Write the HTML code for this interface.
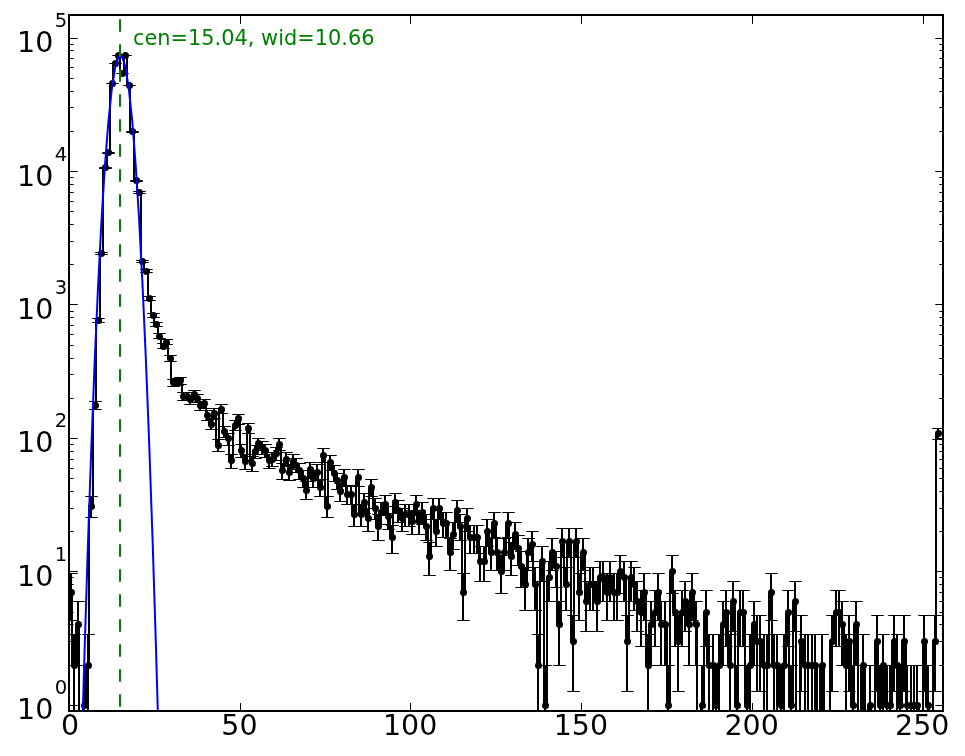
<!DOCTYPE html>
<html lang="en"><head><meta charset="utf-8"><title>Histogram fit</title>
<style>html,body{margin:0;padding:0;background:#fff;}body{width:965px;height:756px;overflow:hidden;}svg{display:block;}text{font-family:"DejaVu Sans","Liberation Sans",sans-serif;}</style></head><body>
<svg width="965" height="756" viewBox="0 0 965 756">
<rect width="965" height="756" fill="#fff"/>
<defs><clipPath id="c"><rect x="69" y="15" width="874" height="696"/></clipPath></defs>
<g clip-path="url(#c)">
<path d="M71 593 L72 593 L72 666 L76 666 L76 625 L79 625 L79 732 L83 732 L83 706 L86 706 L86 666 L89 666 L89 507 L93 507 L93 406 L96 406 L96 321 L100 321 L100 254 L103 254 L103 168 L107 168 L107 153 L110 153 L110 84 L113 84 L113 64 L117 64 L117 56 L120 56 L120 74 L124 74 L124 56 L127 56 L127 86 L130 86 L130 132 L134 132 L134 181 L137 181 L137 193 L141 193 L141 262 L144 262 L144 272 L148 272 L148 299 L151 299 L151 316 L154 316 L154 325 L158 325 L158 337 L161 337 L161 347 L165 347 L165 343 L168 343 L168 359 L171 359 L171 383 L175 383 L175 382 L178 382 L178 381 L182 381 L182 397 L185 397 L185 397 L188 397 L188 400 L192 400 L192 395 L195 395 L195 399 L199 399 L199 406 L202 406 L202 404 L206 404 L206 416 L209 416 L209 425 L212 425 L212 414 L216 414 L216 446 L219 446 L219 410 L223 410 L223 432 L226 432 L226 439 L229 439 L229 461 L233 461 L233 426 L236 426 L236 419 L240 419 L240 451 L243 451 L243 462 L247 462 L247 429 L250 429 L250 464 L253 464 L253 452 L257 452 L257 444 L260 444 L260 448 L264 448 L264 451 L267 451 L267 461 L270 461 L270 460 L274 460 L274 454 L277 454 L277 445 L281 445 L281 471 L284 471 L284 460 L288 460 L288 473 L291 473 L291 462 L294 462 L294 466 L298 466 L298 471 L301 471 L301 479 L305 479 L305 491 L308 491 L308 470 L311 470 L311 479 L315 479 L315 473 L318 473 L318 488 L322 488 L322 456 L325 456 L325 507 L328 507 L328 463 L332 463 L332 474 L335 474 L335 481 L339 481 L339 492 L342 492 L342 478 L346 478 L346 495 L349 495 L349 495 L352 495 L352 515 L356 515 L356 478 L359 478 L359 515 L363 515 L363 503 L366 503 L366 519 L369 519 L369 488 L373 488 L373 509 L376 509 L376 527 L380 527 L380 513 L383 513 L383 505 L387 505 L387 517 L390 517 L390 538 L393 538 L393 503 L397 503 L397 511 L400 511 L400 519 L404 519 L404 515 L407 515 L407 515 L410 515 L410 522 L414 522 L414 505 L417 505 L417 522 L421 522 L421 513 L424 513 L424 527 L428 527 L428 557 L431 557 L431 509 L434 509 L434 532 L438 532 L438 509 L441 509 L441 524 L445 524 L445 524 L448 524 L448 553 L451 553 L451 535 L455 535 L455 511 L458 511 L458 527 L462 527 L462 593 L465 593 L465 519 L468 519 L468 538 L472 538 L472 538 L475 538 L475 538 L479 538 L479 562 L482 562 L482 562 L486 562 L486 532 L489 532 L489 553 L492 553 L492 524 L496 524 L496 553 L499 553 L499 572 L503 572 L503 553 L506 553 L506 524 L509 524 L509 557 L513 557 L513 535 L516 535 L516 549 L520 549 L520 567 L523 567 L523 585 L527 585 L527 553 L530 553 L530 545 L533 545 L533 585 L537 585 L537 666 L540 666 L540 562 L544 562 L544 706 L547 706 L547 578 L550 578 L550 553 L554 553 L554 567 L557 567 L557 625 L561 625 L561 542 L564 542 L564 585 L567 585 L567 542 L571 542 L571 642 L574 642 L574 542 L578 542 L578 593 L581 593 L581 553 L585 553 L585 602 L588 602 L588 585 L591 585 L591 585 L595 585 L595 602 L598 602 L598 578 L602 578 L602 578 L605 578 L605 593 L608 593 L608 578 L612 578 L612 593 L615 593 L615 593 L619 593 L619 572 L622 572 L622 578 L626 578 L626 642 L629 642 L629 578 L632 578 L632 585 L636 585 L636 602 L639 602 L639 613 L643 613 L643 593 L646 593 L646 666 L649 666 L649 625 L653 625 L653 613 L656 613 L656 593 L660 593 L660 625 L663 625 L663 625 L667 625 L667 706 L670 706 L670 572 L673 572 L673 613 L677 613 L677 642 L680 642 L680 613 L684 613 L684 602 L687 602 L687 625 L690 625 L690 593 L694 593 L694 625 L697 625 L697 732 L701 732 L701 706 L704 706 L704 613 L707 613 L707 666 L711 666 L711 666 L714 666 L714 706 L718 706 L718 666 L721 666 L721 625 L725 625 L725 613 L728 613 L728 666 L731 666 L731 602 L735 602 L735 706 L738 706 L738 613 L742 613 L742 613 L745 613 L745 706 L748 706 L748 666 L752 666 L752 625 L755 625 L755 642 L759 642 L759 642 L762 642 L762 666 L766 666 L766 666 L769 666 L769 593 L772 593 L772 666 L776 666 L776 666 L779 666 L779 706 L783 706 L783 666 L786 666 L786 613 L789 613 L789 706 L793 706 L793 602 L796 602 L796 732 L800 732 L800 642 L803 642 L803 666 L807 666 L807 666 L810 666 L810 666 L813 666 L813 666 L817 666 L817 732 L820 732 L820 666 L824 666 L824 732 L827 732 L827 732 L830 732 L830 642 L834 642 L834 613 L837 613 L837 613 L841 613 L841 625 L844 625 L844 666 L847 666 L847 642 L851 642 L851 706 L854 706 L854 625 L858 625 L858 732 L861 732 L861 666 L865 666 L865 732 L868 732 L868 706 L871 706 L871 732 L875 732 L875 642 L878 642 L878 706 L882 706 L882 666 L885 666 L885 706 L888 706 L888 706 L892 706 L892 642 L895 642 L895 666 L899 666 L899 706 L902 706 L902 642 L906 642 L906 706 L909 706 L909 706 L912 706 L912 706 L916 706 L916 706 L919 706 L919 732 L923 732 L923 642 L926 642 L926 706 L929 706 L929 732 L933 732 L933 642 L936 642 L936 434 L938 434" fill="none" stroke="#000" stroke-width="2" stroke-linejoin="round" stroke-linecap="butt"/>
<path d="M71 573.94V620.04M74 634.13V731M78 601.46V665.13M84 665.13V731M88 634.13V731M91 496.71V517.75M95 401.11V409.84M98 318.12V322.31M101 252.38V254.73M105 167.32V168.45M108 152.26V153.25M112 83.17V83.71M115 63.21V63.66M118 55.22V55.64M122 73.1V73.6M125 55.22V55.64M129 85.07V85.63M132 131.24V132.06M136 180.06V181.32M139 191.78V193.17M142 260.02V262.54M146 269.89V272.63M149 296.99V300.46M153 313.3V317.3M156 322.03V326.36M159 333.97V338.78M163 343.74V348.98M166 339.71V344.77M170 355.66V361.48M173 379.32V386.51M177 378.47V385.6M180 377.41V384.48M183 392.34V400.41M187 392.89V401M190 395.98V404.31M194 390.48V398.41M197 394.55V402.78M200 401.75V410.53M204 399.55V408.16M207 410.73V420.25M211 419.62V429.94M214 408.89V418.25M218 439.32V451.65M221 404.7V413.71M224 426.6V437.59M228 433.44V445.12M231 454.12V468.25M235 420.06V430.42M238 414.2V424.02M241 444.51V457.44M245 454.93V469.16M248 423.24V433.89M252 456.59V471.04M255 445.19V458.21M258 438.09V450.29M262 441.85V454.48M265 444.51V457.44M269 454.12V468.25M272 452.53V466.45M276 447.3V460.56M279 438.7V450.96M282 463.77V479.22M286 452.53V466.45M289 464.74V480.32M293 454.93V469.16M296 458.3V472.99M299 463.77V479.22M303 470.91V487.41M306 481.67V499.92M310 462.82V478.13M313 470.91V487.41M317 464.74V480.32M320 479.09V496.91M323 448.74V462.19M327 496.71V517.75M330 455.76V470.1M334 465.72V481.45M337 473.13V489.98M340 483V501.48M344 469.83V486.17M347 485.77V504.74M351 485.77V504.74M354 504.09V526.67M358 469.83V486.17M361 504.09V526.67M364 493.36V513.74M368 508.18V531.68M371 479.09V496.91M375 498.46V519.86M378 514.96V540.05M381 502.15V524.32M385 495.01V515.71M388 506.1V529.13M392 525.52V553.36M395 493.36V513.74M398 500.27V522.05M402 508.18V531.68M405 504.09V526.67M409 504.09V526.67M412 510.35V534.35M416 495.01V515.71M419 510.35V534.35M422 502.15V524.32M426 514.96V540.05M429 542.46V575.47M433 498.46V519.86M436 519.98V546.35M439 498.46V519.86M443 512.6V537.13M446 512.6V537.13M450 538.62V570.37M453 522.68V549.76M457 500.27V522.05M460 514.96V540.05M463 573.94V620.04M467 508.18V531.68M470 525.52V553.36M474 525.52V553.36M477 525.52V553.36M480 546.59V581.03M484 546.59V581.03M487 519.98V546.35M491 538.62V570.37M494 512.6V537.13M497 538.62V570.37M501 555.93V593.88M504 538.62V570.37M508 512.6V537.13M511 542.46V575.47M515 522.68V549.76M518 535.04V565.66M521 551.06V587.12M525 567.24V610.07M528 538.62V570.37M532 531.68V561.29M535 567.24V610.07M538 634.13V731M542 546.59V581.03M545 665.13V731M549 561.29V601.46M552 538.62V570.37M556 551.06V587.12M559 601.46V665.13M562 528.51V557.2M566 567.24V610.07M569 528.51V557.2M573 615.22V691.54M576 528.51V557.2M579 573.94V620.04M583 538.62V570.37M586 581.62V631.87M590 567.24V610.07M593 567.24V610.07M597 581.62V631.87M600 561.29V601.46M603 561.29V601.46M607 573.94V620.04M610 561.29V601.46M614 573.94V620.04M617 573.94V620.04M620 555.93V593.88M624 561.29V601.46M627 615.22V691.54M631 561.29V601.46M634 567.24V610.07M637 581.62V631.87M641 590.6V646.38M644 573.94V620.04M648 634.13V731M651 601.46V665.13M655 590.6V646.38M658 573.94V620.04M661 601.46V665.13M665 601.46V665.13M668 665.13V731M672 555.93V593.88M675 590.6V646.38M678 615.22V691.54M682 590.6V646.38M685 581.62V631.87M689 601.46V665.13M692 573.94V620.04M696 601.46V665.13M702 665.13V731M706 590.6V646.38M709 634.13V731M713 634.13V731M716 665.13V731M719 634.13V731M723 601.46V665.13M726 590.6V646.38M730 634.13V731M733 581.62V631.87M737 665.13V731M740 590.6V646.38M743 590.6V646.38M747 665.13V731M750 634.13V731M754 601.46V665.13M757 615.22V691.54M760 615.22V691.54M764 634.13V731M767 634.13V731M771 573.94V620.04M774 634.13V731M777 634.13V731M781 665.13V731M784 634.13V731M788 590.6V646.38M791 665.13V731M795 581.62V631.87M801 615.22V691.54M805 634.13V731M808 634.13V731M812 634.13V731M815 634.13V731M822 634.13V731M832 615.22V691.54M836 590.6V646.38M839 590.6V646.38M842 601.46V665.13M846 634.13V731M849 615.22V691.54M853 665.13V731M856 601.46V665.13M863 634.13V731M870 665.13V731M877 615.22V691.54M880 665.13V731M883 634.13V731M887 665.13V731M890 665.13V731M894 615.22V691.54M897 634.13V731M900 665.13V731M904 615.22V691.54M907 665.13V731M911 665.13V731M914 665.13V731M917 665.13V731M924 615.22V691.54M928 665.13V731M935 615.22V691.54M938 428.62V439.81" fill="none" stroke="#000" stroke-width="2"/>
<path d="M65.25 573.5H77.75M65.25 620.5H77.75M68.25 634.5H80.75M72.25 601.5H84.75M72.25 665.5H84.75M78.25 665.5H90.75M82.25 634.5H94.75M85.25 496.5H97.75M85.25 517.5H97.75M89.25 401.5H101.75M89.25 409.5H101.75M92.25 318.5H104.75M92.25 322.5H104.75M95.25 252.5H107.75M95.25 254.5H107.75M99.25 167.5H111.75M99.25 168.5H111.75M102.25 152.5H114.75M102.25 153.5H114.75M106.25 83.5H118.75M106.25 83.5H118.75M109.25 63.5H121.75M109.25 63.5H121.75M112.25 55.5H124.75M112.25 55.5H124.75M116.25 73.5H128.75M116.25 73.5H128.75M119.25 55.5H131.75M119.25 55.5H131.75M123.25 85.5H135.75M123.25 85.5H135.75M126.25 131.5H138.75M126.25 132.5H138.75M130.25 180.5H142.75M130.25 181.5H142.75M133.25 191.5H145.75M133.25 193.5H145.75M136.25 260.5H148.75M136.25 262.5H148.75M140.25 269.5H152.75M140.25 272.5H152.75M143.25 296.5H155.75M143.25 300.5H155.75M147.25 313.5H159.75M147.25 317.5H159.75M150.25 322.5H162.75M150.25 326.5H162.75M153.25 333.5H165.75M153.25 338.5H165.75M157.25 343.5H169.75M157.25 348.5H169.75M160.25 339.5H172.75M160.25 344.5H172.75M164.25 355.5H176.75M164.25 361.5H176.75M167.25 379.5H179.75M167.25 386.5H179.75M171.25 378.5H183.75M171.25 385.5H183.75M174.25 377.5H186.75M174.25 384.5H186.75M177.25 392.5H189.75M177.25 400.5H189.75M181.25 392.5H193.75M181.25 400.5H193.75M184.25 395.5H196.75M184.25 404.5H196.75M188.25 390.5H200.75M188.25 398.5H200.75M191.25 394.5H203.75M191.25 402.5H203.75M194.25 401.5H206.75M194.25 410.5H206.75M198.25 399.5H210.75M198.25 408.5H210.75M201.25 410.5H213.75M201.25 420.5H213.75M205.25 419.5H217.75M205.25 429.5H217.75M208.25 408.5H220.75M208.25 418.5H220.75M212.25 439.5H224.75M212.25 451.5H224.75M215.25 404.5H227.75M215.25 413.5H227.75M218.25 426.5H230.75M218.25 437.5H230.75M222.25 433.5H234.75M222.25 445.5H234.75M225.25 454.5H237.75M225.25 468.5H237.75M229.25 420.5H241.75M229.25 430.5H241.75M232.25 414.5H244.75M232.25 424.5H244.75M235.25 444.5H247.75M235.25 457.5H247.75M239.25 454.5H251.75M239.25 469.5H251.75M242.25 423.5H254.75M242.25 433.5H254.75M246.25 456.5H258.75M246.25 471.5H258.75M249.25 445.5H261.75M249.25 458.5H261.75M252.25 438.5H264.75M252.25 450.5H264.75M256.25 441.5H268.75M256.25 454.5H268.75M259.25 444.5H271.75M259.25 457.5H271.75M263.25 454.5H275.75M263.25 468.5H275.75M266.25 452.5H278.75M266.25 466.5H278.75M270.25 447.5H282.75M270.25 460.5H282.75M273.25 438.5H285.75M273.25 450.5H285.75M276.25 463.5H288.75M276.25 479.5H288.75M280.25 452.5H292.75M280.25 466.5H292.75M283.25 464.5H295.75M283.25 480.5H295.75M287.25 454.5H299.75M287.25 469.5H299.75M290.25 458.5H302.75M290.25 472.5H302.75M293.25 463.5H305.75M293.25 479.5H305.75M297.25 470.5H309.75M297.25 487.5H309.75M300.25 481.5H312.75M300.25 499.5H312.75M304.25 462.5H316.75M304.25 478.5H316.75M307.25 470.5H319.75M307.25 487.5H319.75M311.25 464.5H323.75M311.25 480.5H323.75M314.25 479.5H326.75M314.25 496.5H326.75M317.25 448.5H329.75M317.25 462.5H329.75M321.25 496.5H333.75M321.25 517.5H333.75M324.25 455.5H336.75M324.25 470.5H336.75M328.25 465.5H340.75M328.25 481.5H340.75M331.25 473.5H343.75M331.25 489.5H343.75M334.25 483.5H346.75M334.25 501.5H346.75M338.25 469.5H350.75M338.25 486.5H350.75M341.25 485.5H353.75M341.25 504.5H353.75M345.25 485.5H357.75M345.25 504.5H357.75M348.25 504.5H360.75M348.25 526.5H360.75M352.25 469.5H364.75M352.25 486.5H364.75M355.25 504.5H367.75M355.25 526.5H367.75M358.25 493.5H370.75M358.25 513.5H370.75M362.25 508.5H374.75M362.25 531.5H374.75M365.25 479.5H377.75M365.25 496.5H377.75M369.25 498.5H381.75M369.25 519.5H381.75M372.25 514.5H384.75M372.25 540.5H384.75M375.25 502.5H387.75M375.25 524.5H387.75M379.25 495.5H391.75M379.25 515.5H391.75M382.25 506.5H394.75M382.25 529.5H394.75M386.25 525.5H398.75M386.25 553.5H398.75M389.25 493.5H401.75M389.25 513.5H401.75M392.25 500.5H404.75M392.25 522.5H404.75M396.25 508.5H408.75M396.25 531.5H408.75M399.25 504.5H411.75M399.25 526.5H411.75M403.25 504.5H415.75M403.25 526.5H415.75M406.25 510.5H418.75M406.25 534.5H418.75M410.25 495.5H422.75M410.25 515.5H422.75M413.25 510.5H425.75M413.25 534.5H425.75M416.25 502.5H428.75M416.25 524.5H428.75M420.25 514.5H432.75M420.25 540.5H432.75M423.25 542.5H435.75M423.25 575.5H435.75M427.25 498.5H439.75M427.25 519.5H439.75M430.25 519.5H442.75M430.25 546.5H442.75M433.25 498.5H445.75M433.25 519.5H445.75M437.25 512.5H449.75M437.25 537.5H449.75M440.25 512.5H452.75M440.25 537.5H452.75M444.25 538.5H456.75M444.25 570.5H456.75M447.25 522.5H459.75M447.25 549.5H459.75M451.25 500.5H463.75M451.25 522.5H463.75M454.25 514.5H466.75M454.25 540.5H466.75M457.25 573.5H469.75M457.25 620.5H469.75M461.25 508.5H473.75M461.25 531.5H473.75M464.25 525.5H476.75M464.25 553.5H476.75M468.25 525.5H480.75M468.25 553.5H480.75M471.25 525.5H483.75M471.25 553.5H483.75M474.25 546.5H486.75M474.25 581.5H486.75M478.25 546.5H490.75M478.25 581.5H490.75M481.25 519.5H493.75M481.25 546.5H493.75M485.25 538.5H497.75M485.25 570.5H497.75M488.25 512.5H500.75M488.25 537.5H500.75M491.25 538.5H503.75M491.25 570.5H503.75M495.25 555.5H507.75M495.25 593.5H507.75M498.25 538.5H510.75M498.25 570.5H510.75M502.25 512.5H514.75M502.25 537.5H514.75M505.25 542.5H517.75M505.25 575.5H517.75M509.25 522.5H521.75M509.25 549.5H521.75M512.25 535.5H524.75M512.25 565.5H524.75M515.25 551.5H527.75M515.25 587.5H527.75M519.25 567.5H531.75M519.25 610.5H531.75M522.25 538.5H534.75M522.25 570.5H534.75M526.25 531.5H538.75M526.25 561.5H538.75M529.25 567.5H541.75M529.25 610.5H541.75M532.25 634.5H544.75M536.25 546.5H548.75M536.25 581.5H548.75M539.25 665.5H551.75M543.25 561.5H555.75M543.25 601.5H555.75M546.25 538.5H558.75M546.25 570.5H558.75M550.25 551.5H562.75M550.25 587.5H562.75M553.25 601.5H565.75M553.25 665.5H565.75M556.25 528.5H568.75M556.25 557.5H568.75M560.25 567.5H572.75M560.25 610.5H572.75M563.25 528.5H575.75M563.25 557.5H575.75M567.25 615.5H579.75M567.25 691.5H579.75M570.25 528.5H582.75M570.25 557.5H582.75M573.25 573.5H585.75M573.25 620.5H585.75M577.25 538.5H589.75M577.25 570.5H589.75M580.25 581.5H592.75M580.25 631.5H592.75M584.25 567.5H596.75M584.25 610.5H596.75M587.25 567.5H599.75M587.25 610.5H599.75M591.25 581.5H603.75M591.25 631.5H603.75M594.25 561.5H606.75M594.25 601.5H606.75M597.25 561.5H609.75M597.25 601.5H609.75M601.25 573.5H613.75M601.25 620.5H613.75M604.25 561.5H616.75M604.25 601.5H616.75M608.25 573.5H620.75M608.25 620.5H620.75M611.25 573.5H623.75M611.25 620.5H623.75M614.25 555.5H626.75M614.25 593.5H626.75M618.25 561.5H630.75M618.25 601.5H630.75M621.25 615.5H633.75M621.25 691.5H633.75M625.25 561.5H637.75M625.25 601.5H637.75M628.25 567.5H640.75M628.25 610.5H640.75M631.25 581.5H643.75M631.25 631.5H643.75M635.25 590.5H647.75M635.25 646.5H647.75M638.25 573.5H650.75M638.25 620.5H650.75M642.25 634.5H654.75M645.25 601.5H657.75M645.25 665.5H657.75M649.25 590.5H661.75M649.25 646.5H661.75M652.25 573.5H664.75M652.25 620.5H664.75M655.25 601.5H667.75M655.25 665.5H667.75M659.25 601.5H671.75M659.25 665.5H671.75M662.25 665.5H674.75M666.25 555.5H678.75M666.25 593.5H678.75M669.25 590.5H681.75M669.25 646.5H681.75M672.25 615.5H684.75M672.25 691.5H684.75M676.25 590.5H688.75M676.25 646.5H688.75M679.25 581.5H691.75M679.25 631.5H691.75M683.25 601.5H695.75M683.25 665.5H695.75M686.25 573.5H698.75M686.25 620.5H698.75M690.25 601.5H702.75M690.25 665.5H702.75M696.25 665.5H708.75M700.25 590.5H712.75M700.25 646.5H712.75M703.25 634.5H715.75M707.25 634.5H719.75M710.25 665.5H722.75M713.25 634.5H725.75M717.25 601.5H729.75M717.25 665.5H729.75M720.25 590.5H732.75M720.25 646.5H732.75M724.25 634.5H736.75M727.25 581.5H739.75M727.25 631.5H739.75M731.25 665.5H743.75M734.25 590.5H746.75M734.25 646.5H746.75M737.25 590.5H749.75M737.25 646.5H749.75M741.25 665.5H753.75M744.25 634.5H756.75M748.25 601.5H760.75M748.25 665.5H760.75M751.25 615.5H763.75M751.25 691.5H763.75M754.25 615.5H766.75M754.25 691.5H766.75M758.25 634.5H770.75M761.25 634.5H773.75M765.25 573.5H777.75M765.25 620.5H777.75M768.25 634.5H780.75M771.25 634.5H783.75M775.25 665.5H787.75M778.25 634.5H790.75M782.25 590.5H794.75M782.25 646.5H794.75M785.25 665.5H797.75M789.25 581.5H801.75M789.25 631.5H801.75M795.25 615.5H807.75M795.25 691.5H807.75M799.25 634.5H811.75M802.25 634.5H814.75M806.25 634.5H818.75M809.25 634.5H821.75M816.25 634.5H828.75M826.25 615.5H838.75M826.25 691.5H838.75M830.25 590.5H842.75M830.25 646.5H842.75M833.25 590.5H845.75M833.25 646.5H845.75M836.25 601.5H848.75M836.25 665.5H848.75M840.25 634.5H852.75M843.25 615.5H855.75M843.25 691.5H855.75M847.25 665.5H859.75M850.25 601.5H862.75M850.25 665.5H862.75M857.25 634.5H869.75M864.25 665.5H876.75M871.25 615.5H883.75M871.25 691.5H883.75M874.25 665.5H886.75M877.25 634.5H889.75M881.25 665.5H893.75M884.25 665.5H896.75M888.25 615.5H900.75M888.25 691.5H900.75M891.25 634.5H903.75M894.25 665.5H906.75M898.25 615.5H910.75M898.25 691.5H910.75M901.25 665.5H913.75M905.25 665.5H917.75M908.25 665.5H920.75M911.25 665.5H923.75M918.25 615.5H930.75M918.25 691.5H930.75M922.25 665.5H934.75M929.25 615.5H941.75M929.25 691.5H941.75M932.25 428.5H944.75M932.25 439.5H944.75" fill="none" stroke="#000" stroke-width="1.1"/>
<g fill="#000">
<circle cx="71.5" cy="592.5" r="3.5"/>
<circle cx="74.5" cy="665.5" r="3.5"/>
<circle cx="78.5" cy="624.5" r="3.5"/>
<circle cx="84.5" cy="705.5" r="3.5"/>
<circle cx="88.5" cy="665.5" r="3.5"/>
<circle cx="91.5" cy="506.5" r="3.5"/>
<circle cx="95.5" cy="405.5" r="3.5"/>
<circle cx="98.5" cy="320.5" r="3.5"/>
<circle cx="101.5" cy="253.5" r="3.5"/>
<circle cx="105.5" cy="167.5" r="3.5"/>
<circle cx="108.5" cy="152.5" r="3.5"/>
<circle cx="112.5" cy="83.5" r="3.5"/>
<circle cx="115.5" cy="63.5" r="3.5"/>
<circle cx="118.5" cy="55.5" r="3.5"/>
<circle cx="122.5" cy="73.5" r="3.5"/>
<circle cx="125.5" cy="55.5" r="3.5"/>
<circle cx="129.5" cy="85.5" r="3.5"/>
<circle cx="132.5" cy="131.5" r="3.5"/>
<circle cx="136.5" cy="180.5" r="3.5"/>
<circle cx="139.5" cy="192.5" r="3.5"/>
<circle cx="142.5" cy="261.5" r="3.5"/>
<circle cx="146.5" cy="271.5" r="3.5"/>
<circle cx="149.5" cy="298.5" r="3.5"/>
<circle cx="153.5" cy="315.5" r="3.5"/>
<circle cx="156.5" cy="324.5" r="3.5"/>
<circle cx="159.5" cy="336.5" r="3.5"/>
<circle cx="163.5" cy="346.5" r="3.5"/>
<circle cx="166.5" cy="342.5" r="3.5"/>
<circle cx="170.5" cy="358.5" r="3.5"/>
<circle cx="173.5" cy="382.5" r="3.5"/>
<circle cx="177.5" cy="381.5" r="3.5"/>
<circle cx="180.5" cy="380.5" r="3.5"/>
<circle cx="183.5" cy="396.5" r="3.5"/>
<circle cx="187.5" cy="396.5" r="3.5"/>
<circle cx="190.5" cy="399.5" r="3.5"/>
<circle cx="194.5" cy="394.5" r="3.5"/>
<circle cx="197.5" cy="398.5" r="3.5"/>
<circle cx="200.5" cy="405.5" r="3.5"/>
<circle cx="204.5" cy="403.5" r="3.5"/>
<circle cx="207.5" cy="415.5" r="3.5"/>
<circle cx="211.5" cy="424.5" r="3.5"/>
<circle cx="214.5" cy="413.5" r="3.5"/>
<circle cx="218.5" cy="445.5" r="3.5"/>
<circle cx="221.5" cy="409.5" r="3.5"/>
<circle cx="224.5" cy="431.5" r="3.5"/>
<circle cx="228.5" cy="438.5" r="3.5"/>
<circle cx="231.5" cy="460.5" r="3.5"/>
<circle cx="235.5" cy="425.5" r="3.5"/>
<circle cx="238.5" cy="418.5" r="3.5"/>
<circle cx="241.5" cy="450.5" r="3.5"/>
<circle cx="245.5" cy="461.5" r="3.5"/>
<circle cx="248.5" cy="428.5" r="3.5"/>
<circle cx="252.5" cy="463.5" r="3.5"/>
<circle cx="255.5" cy="451.5" r="3.5"/>
<circle cx="258.5" cy="443.5" r="3.5"/>
<circle cx="262.5" cy="447.5" r="3.5"/>
<circle cx="265.5" cy="450.5" r="3.5"/>
<circle cx="269.5" cy="460.5" r="3.5"/>
<circle cx="272.5" cy="459.5" r="3.5"/>
<circle cx="276.5" cy="453.5" r="3.5"/>
<circle cx="279.5" cy="444.5" r="3.5"/>
<circle cx="282.5" cy="470.5" r="3.5"/>
<circle cx="286.5" cy="459.5" r="3.5"/>
<circle cx="289.5" cy="472.5" r="3.5"/>
<circle cx="293.5" cy="461.5" r="3.5"/>
<circle cx="296.5" cy="465.5" r="3.5"/>
<circle cx="299.5" cy="470.5" r="3.5"/>
<circle cx="303.5" cy="478.5" r="3.5"/>
<circle cx="306.5" cy="490.5" r="3.5"/>
<circle cx="310.5" cy="469.5" r="3.5"/>
<circle cx="313.5" cy="478.5" r="3.5"/>
<circle cx="317.5" cy="472.5" r="3.5"/>
<circle cx="320.5" cy="487.5" r="3.5"/>
<circle cx="323.5" cy="455.5" r="3.5"/>
<circle cx="327.5" cy="506.5" r="3.5"/>
<circle cx="330.5" cy="462.5" r="3.5"/>
<circle cx="334.5" cy="473.5" r="3.5"/>
<circle cx="337.5" cy="480.5" r="3.5"/>
<circle cx="340.5" cy="491.5" r="3.5"/>
<circle cx="344.5" cy="477.5" r="3.5"/>
<circle cx="347.5" cy="494.5" r="3.5"/>
<circle cx="351.5" cy="494.5" r="3.5"/>
<circle cx="354.5" cy="514.5" r="3.5"/>
<circle cx="358.5" cy="477.5" r="3.5"/>
<circle cx="361.5" cy="514.5" r="3.5"/>
<circle cx="364.5" cy="502.5" r="3.5"/>
<circle cx="368.5" cy="518.5" r="3.5"/>
<circle cx="371.5" cy="487.5" r="3.5"/>
<circle cx="375.5" cy="508.5" r="3.5"/>
<circle cx="378.5" cy="526.5" r="3.5"/>
<circle cx="381.5" cy="512.5" r="3.5"/>
<circle cx="385.5" cy="504.5" r="3.5"/>
<circle cx="388.5" cy="516.5" r="3.5"/>
<circle cx="392.5" cy="537.5" r="3.5"/>
<circle cx="395.5" cy="502.5" r="3.5"/>
<circle cx="398.5" cy="510.5" r="3.5"/>
<circle cx="402.5" cy="518.5" r="3.5"/>
<circle cx="405.5" cy="514.5" r="3.5"/>
<circle cx="409.5" cy="514.5" r="3.5"/>
<circle cx="412.5" cy="521.5" r="3.5"/>
<circle cx="416.5" cy="504.5" r="3.5"/>
<circle cx="419.5" cy="521.5" r="3.5"/>
<circle cx="422.5" cy="512.5" r="3.5"/>
<circle cx="426.5" cy="526.5" r="3.5"/>
<circle cx="429.5" cy="556.5" r="3.5"/>
<circle cx="433.5" cy="508.5" r="3.5"/>
<circle cx="436.5" cy="531.5" r="3.5"/>
<circle cx="439.5" cy="508.5" r="3.5"/>
<circle cx="443.5" cy="523.5" r="3.5"/>
<circle cx="446.5" cy="523.5" r="3.5"/>
<circle cx="450.5" cy="552.5" r="3.5"/>
<circle cx="453.5" cy="534.5" r="3.5"/>
<circle cx="457.5" cy="510.5" r="3.5"/>
<circle cx="460.5" cy="526.5" r="3.5"/>
<circle cx="463.5" cy="592.5" r="3.5"/>
<circle cx="467.5" cy="518.5" r="3.5"/>
<circle cx="470.5" cy="537.5" r="3.5"/>
<circle cx="474.5" cy="537.5" r="3.5"/>
<circle cx="477.5" cy="537.5" r="3.5"/>
<circle cx="480.5" cy="561.5" r="3.5"/>
<circle cx="484.5" cy="561.5" r="3.5"/>
<circle cx="487.5" cy="531.5" r="3.5"/>
<circle cx="491.5" cy="552.5" r="3.5"/>
<circle cx="494.5" cy="523.5" r="3.5"/>
<circle cx="497.5" cy="552.5" r="3.5"/>
<circle cx="501.5" cy="571.5" r="3.5"/>
<circle cx="504.5" cy="552.5" r="3.5"/>
<circle cx="508.5" cy="523.5" r="3.5"/>
<circle cx="511.5" cy="556.5" r="3.5"/>
<circle cx="515.5" cy="534.5" r="3.5"/>
<circle cx="518.5" cy="548.5" r="3.5"/>
<circle cx="521.5" cy="566.5" r="3.5"/>
<circle cx="525.5" cy="584.5" r="3.5"/>
<circle cx="528.5" cy="552.5" r="3.5"/>
<circle cx="532.5" cy="544.5" r="3.5"/>
<circle cx="535.5" cy="584.5" r="3.5"/>
<circle cx="538.5" cy="665.5" r="3.5"/>
<circle cx="542.5" cy="561.5" r="3.5"/>
<circle cx="545.5" cy="705.5" r="3.5"/>
<circle cx="549.5" cy="577.5" r="3.5"/>
<circle cx="552.5" cy="552.5" r="3.5"/>
<circle cx="556.5" cy="566.5" r="3.5"/>
<circle cx="559.5" cy="624.5" r="3.5"/>
<circle cx="562.5" cy="541.5" r="3.5"/>
<circle cx="566.5" cy="584.5" r="3.5"/>
<circle cx="569.5" cy="541.5" r="3.5"/>
<circle cx="573.5" cy="641.5" r="3.5"/>
<circle cx="576.5" cy="541.5" r="3.5"/>
<circle cx="579.5" cy="592.5" r="3.5"/>
<circle cx="583.5" cy="552.5" r="3.5"/>
<circle cx="586.5" cy="601.5" r="3.5"/>
<circle cx="590.5" cy="584.5" r="3.5"/>
<circle cx="593.5" cy="584.5" r="3.5"/>
<circle cx="597.5" cy="601.5" r="3.5"/>
<circle cx="600.5" cy="577.5" r="3.5"/>
<circle cx="603.5" cy="577.5" r="3.5"/>
<circle cx="607.5" cy="592.5" r="3.5"/>
<circle cx="610.5" cy="577.5" r="3.5"/>
<circle cx="614.5" cy="592.5" r="3.5"/>
<circle cx="617.5" cy="592.5" r="3.5"/>
<circle cx="620.5" cy="571.5" r="3.5"/>
<circle cx="624.5" cy="577.5" r="3.5"/>
<circle cx="627.5" cy="641.5" r="3.5"/>
<circle cx="631.5" cy="577.5" r="3.5"/>
<circle cx="634.5" cy="584.5" r="3.5"/>
<circle cx="637.5" cy="601.5" r="3.5"/>
<circle cx="641.5" cy="612.5" r="3.5"/>
<circle cx="644.5" cy="592.5" r="3.5"/>
<circle cx="648.5" cy="665.5" r="3.5"/>
<circle cx="651.5" cy="624.5" r="3.5"/>
<circle cx="655.5" cy="612.5" r="3.5"/>
<circle cx="658.5" cy="592.5" r="3.5"/>
<circle cx="661.5" cy="624.5" r="3.5"/>
<circle cx="665.5" cy="624.5" r="3.5"/>
<circle cx="668.5" cy="705.5" r="3.5"/>
<circle cx="672.5" cy="571.5" r="3.5"/>
<circle cx="675.5" cy="612.5" r="3.5"/>
<circle cx="678.5" cy="641.5" r="3.5"/>
<circle cx="682.5" cy="612.5" r="3.5"/>
<circle cx="685.5" cy="601.5" r="3.5"/>
<circle cx="689.5" cy="624.5" r="3.5"/>
<circle cx="692.5" cy="592.5" r="3.5"/>
<circle cx="696.5" cy="624.5" r="3.5"/>
<circle cx="702.5" cy="705.5" r="3.5"/>
<circle cx="706.5" cy="612.5" r="3.5"/>
<circle cx="709.5" cy="665.5" r="3.5"/>
<circle cx="713.5" cy="665.5" r="3.5"/>
<circle cx="716.5" cy="705.5" r="3.5"/>
<circle cx="719.5" cy="665.5" r="3.5"/>
<circle cx="723.5" cy="624.5" r="3.5"/>
<circle cx="726.5" cy="612.5" r="3.5"/>
<circle cx="730.5" cy="665.5" r="3.5"/>
<circle cx="733.5" cy="601.5" r="3.5"/>
<circle cx="737.5" cy="705.5" r="3.5"/>
<circle cx="740.5" cy="612.5" r="3.5"/>
<circle cx="743.5" cy="612.5" r="3.5"/>
<circle cx="747.5" cy="705.5" r="3.5"/>
<circle cx="750.5" cy="665.5" r="3.5"/>
<circle cx="754.5" cy="624.5" r="3.5"/>
<circle cx="757.5" cy="641.5" r="3.5"/>
<circle cx="760.5" cy="641.5" r="3.5"/>
<circle cx="764.5" cy="665.5" r="3.5"/>
<circle cx="767.5" cy="665.5" r="3.5"/>
<circle cx="771.5" cy="592.5" r="3.5"/>
<circle cx="774.5" cy="665.5" r="3.5"/>
<circle cx="777.5" cy="665.5" r="3.5"/>
<circle cx="781.5" cy="705.5" r="3.5"/>
<circle cx="784.5" cy="665.5" r="3.5"/>
<circle cx="788.5" cy="612.5" r="3.5"/>
<circle cx="791.5" cy="705.5" r="3.5"/>
<circle cx="795.5" cy="601.5" r="3.5"/>
<circle cx="801.5" cy="641.5" r="3.5"/>
<circle cx="805.5" cy="665.5" r="3.5"/>
<circle cx="808.5" cy="665.5" r="3.5"/>
<circle cx="812.5" cy="665.5" r="3.5"/>
<circle cx="815.5" cy="665.5" r="3.5"/>
<circle cx="822.5" cy="665.5" r="3.5"/>
<circle cx="832.5" cy="641.5" r="3.5"/>
<circle cx="836.5" cy="612.5" r="3.5"/>
<circle cx="839.5" cy="612.5" r="3.5"/>
<circle cx="842.5" cy="624.5" r="3.5"/>
<circle cx="846.5" cy="665.5" r="3.5"/>
<circle cx="849.5" cy="641.5" r="3.5"/>
<circle cx="853.5" cy="705.5" r="3.5"/>
<circle cx="856.5" cy="624.5" r="3.5"/>
<circle cx="863.5" cy="665.5" r="3.5"/>
<circle cx="870.5" cy="705.5" r="3.5"/>
<circle cx="877.5" cy="641.5" r="3.5"/>
<circle cx="880.5" cy="705.5" r="3.5"/>
<circle cx="883.5" cy="665.5" r="3.5"/>
<circle cx="887.5" cy="705.5" r="3.5"/>
<circle cx="890.5" cy="705.5" r="3.5"/>
<circle cx="894.5" cy="641.5" r="3.5"/>
<circle cx="897.5" cy="665.5" r="3.5"/>
<circle cx="900.5" cy="705.5" r="3.5"/>
<circle cx="904.5" cy="641.5" r="3.5"/>
<circle cx="907.5" cy="705.5" r="3.5"/>
<circle cx="911.5" cy="705.5" r="3.5"/>
<circle cx="914.5" cy="705.5" r="3.5"/>
<circle cx="917.5" cy="705.5" r="3.5"/>
<circle cx="924.5" cy="641.5" r="3.5"/>
<circle cx="928.5" cy="705.5" r="3.5"/>
<circle cx="935.5" cy="641.5" r="3.5"/>
<circle cx="938.5" cy="433.5" r="3.5"/>
</g>
<path d="M74.1 1051.81 L77.52 910.02 L80.93 779.1 L84.35 659.06 L87.76 549.89 L91.17 451.59 L94.59 364.16 L98 287.61 L101.42 221.94 L104.83 167.14 L108.25 123.21 L111.66 90.15 L115.08 67.97 L118.49 56.66 L121.9 56.23 L125.32 66.66 L128.73 87.98 L132.15 120.16 L135.56 163.22 L138.98 217.15 L142.39 281.96 L145.81 357.64 L149.22 444.19 L152.64 541.62 L156.05 649.92 L159.46 769.1 L162.88 899.14 L166.29 1040.07" fill="none" stroke="#0000ff" stroke-width="2" stroke-linejoin="round"/>
<path d="M120 711V15" fill="none" stroke="#008000" stroke-width="2" stroke-dasharray="12.5 12.5" stroke-dashoffset="20.85"/>
</g>
<path d="M69.5 711.41v-8.33M69.5 15.5v8.33M240.5 711.41v-8.33M240.5 15.5v8.33M410.5 711.41v-8.33M410.5 15.5v8.33M581.5 711.41v-8.33M581.5 15.5v8.33M752.5 711.41v-8.33M752.5 15.5v8.33M923.5 711.41v-8.33M923.5 15.5v8.33M69.48 705.5h8.33M943.59 705.5h-8.33M69.48 665.5h4.17M943.59 665.5h-4.17M69.48 641.5h4.17M943.59 641.5h-4.17M69.48 624.5h4.17M943.59 624.5h-4.17M69.48 612.5h4.17M943.59 612.5h-4.17M69.48 601.5h4.17M943.59 601.5h-4.17M69.48 592.5h4.17M943.59 592.5h-4.17M69.48 584.5h4.17M943.59 584.5h-4.17M69.48 577.5h4.17M943.59 577.5h-4.17M69.48 571.5h8.33M943.59 571.5h-8.33M69.48 531.5h4.17M943.59 531.5h-4.17M69.48 508.5h4.17M943.59 508.5h-4.17M69.48 491.5h4.17M943.59 491.5h-4.17M69.48 478.5h4.17M943.59 478.5h-4.17M69.48 468.5h4.17M943.59 468.5h-4.17M69.48 459.5h4.17M943.59 459.5h-4.17M69.48 451.5h4.17M943.59 451.5h-4.17M69.48 444.5h4.17M943.59 444.5h-4.17M69.48 438.5h8.33M943.59 438.5h-8.33M69.48 398.5h4.17M943.59 398.5h-4.17M69.48 374.5h4.17M943.59 374.5h-4.17M69.48 358.5h4.17M943.59 358.5h-4.17M69.48 345.5h4.17M943.59 345.5h-4.17M69.48 334.5h4.17M943.59 334.5h-4.17M69.48 325.5h4.17M943.59 325.5h-4.17M69.48 317.5h4.17M943.59 317.5h-4.17M69.48 311.5h4.17M943.59 311.5h-4.17M69.48 304.5h8.33M943.59 304.5h-8.33M69.48 264.5h4.17M943.59 264.5h-4.17M69.48 241.5h4.17M943.59 241.5h-4.17M69.48 224.5h4.17M943.59 224.5h-4.17M69.48 211.5h4.17M943.59 211.5h-4.17M69.48 201.5h4.17M943.59 201.5h-4.17M69.48 192.5h4.17M943.59 192.5h-4.17M69.48 184.5h4.17M943.59 184.5h-4.17M69.48 177.5h4.17M943.59 177.5h-4.17M69.48 171.5h8.33M943.59 171.5h-8.33M69.48 131.5h4.17M943.59 131.5h-4.17M69.48 107.5h4.17M943.59 107.5h-4.17M69.48 91.5h4.17M943.59 91.5h-4.17M69.48 78.5h4.17M943.59 78.5h-4.17M69.48 67.5h4.17M943.59 67.5h-4.17M69.48 58.5h4.17M943.59 58.5h-4.17M69.48 50.5h4.17M943.59 50.5h-4.17M69.48 44.5h4.17M943.59 44.5h-4.17M69.48 38.5h8.33M943.59 38.5h-8.33" fill="none" stroke="#000" stroke-width="1"/>
<rect x="69" y="15" width="874" height="696" fill="none" stroke="#000" stroke-width="2"/>
<g fill="#000">
<text x="70.13" y="735.1" font-size="28.5" text-anchor="middle">0</text>
<text x="239.4" y="735.1" font-size="28.5" text-anchor="middle">50</text>
<text x="410.13" y="735.1" font-size="28.5" text-anchor="middle">100</text>
<text x="580.85" y="735.1" font-size="28.5" text-anchor="middle">150</text>
<text x="751.58" y="735.1" font-size="28.5" text-anchor="middle">200</text>
<text x="922.3" y="735.1" font-size="28.5" text-anchor="middle">250</text>
<text x="17" y="719.3" font-size="28.5">10<tspan dx="1.4" dy="-25" font-size="19.6">0</tspan></text>
<text x="17" y="585.85" font-size="28.5">10<tspan dx="1.4" dy="-25" font-size="19.6">1</tspan></text>
<text x="17" y="452.4" font-size="28.5">10<tspan dx="1.4" dy="-25" font-size="19.6">2</tspan></text>
<text x="17" y="318.95" font-size="28.5">10<tspan dx="1.4" dy="-25" font-size="19.6">3</tspan></text>
<text x="17" y="185.51" font-size="28.5">10<tspan dx="1.4" dy="-25" font-size="19.6">4</tspan></text>
<text x="17" y="52.06" font-size="28.5">10<tspan dx="1.4" dy="-25" font-size="19.6">5</tspan></text>
</g>
<text x="133" y="44.5" font-size="20.88" fill="#008000">cen=15.04, wid=10.66</text>
</svg></body></html>
